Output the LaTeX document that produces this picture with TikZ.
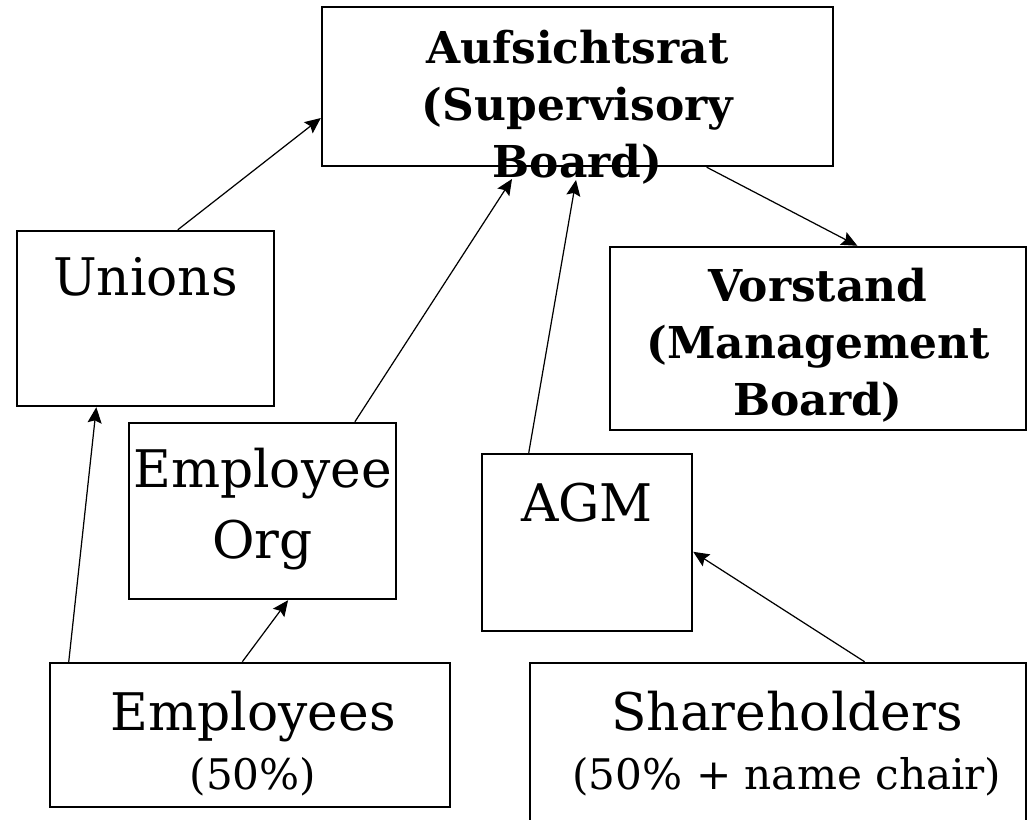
\documentclass[tikz,border=0pt]{standalone}
\usepackage{fontspec}
\setmainfont{DejaVu Serif}
\usetikzlibrary{arrows.meta}

\begin{document}
\begin{tikzpicture}[x=0.02cm,y=-0.02cm,>={Stealth[length=9pt,width=8pt,inset=1.5pt]},
    box node/.style={rectangle,draw,line width=1.4pt,inner sep=0pt},
    big text/.style={font=\fontsize{29.5}{40}\selectfont,align=center,inner sep=0pt},
    bold text/.style={font=\fontsize{25}{32.5}\selectfont\bfseries,align=center,inner sep=0pt},
    small text/.style={font=\fontsize{24}{30}\selectfont,inner sep=0pt},
    link/.style={->,line width=0.7pt}]
  \path[use as bounding box,clip] (0,0) rectangle (1030,820);

  % the boxes
  \node[box node,minimum width=10.22cm,minimum height=3.18cm] (auf) at (577.5,86.5) {};
  \node[box node,minimum width=5.14cm,minimum height=3.5cm] (unions) at (145.5,318.5) {};
  \node[box node,minimum width=8.32cm,minimum height=3.66cm] (vor) at (818,338.5) {};
  \node[box node,minimum width=5.34cm,minimum height=3.52cm] (emporg) at (262.5,511) {};
  \node[box node,minimum width=4.2cm,minimum height=3.54cm] (agm) at (587,542.5) {};
  \node[box node,minimum width=8cm,minimum height=2.88cm] (emp) at (250,735) {};
  \node[box node,minimum width=9.92cm,minimum height=3.54cm] (share) at (778,751.5) {};

  % the texts
  \node[bold text,anchor=north] (auf-t) at (577.5,30) {Aufsichtsrat\\(Supervisory\\Board)};
  \node[big text,anchor=base] (unions-t) at (145.5,296) {Unions};
  \node[bold text,anchor=north] (vor-t) at (818,268) {Vorstand\\(Management\\Board)};
  \node[big text,anchor=north] (emporg-t) at (262.5,448) {Employee\\Org};
  \node[big text,anchor=base] (agm-t) at (587,521) {AGM};
  \node[big text,anchor=base] (emp-t) at (253,730) {Employees};
  \node[small text,anchor=base] (emp-s) at (253,789) {(50\%)};
  \node[big text,anchor=base] (share-t) at (787,730) {Shareholders};
  \node[small text,anchor=base] (share-s) at (787,789) {(50\% + name chair)};

  % tips that stop inside the last line of the board
  \coordinate (auf-in1) at (512,179);
  \coordinate (auf-in2) at (576,180);

  % who sends whom
  \path[link] (unions.70) edge (auf.187.5);
  \path[link] (emporg.44) edge (auf-in1);
  \path[link] (agm.123) edge (auf-in2);
  \path[link] (auf.328) edge (vor.67);
  \path[link] (emp.158.5) edge (unions.241);
  \path[link] (emp.96.3) edge (emporg.286);
  \path[link] (share.46.2) edge (agm.355);
\end{tikzpicture}
\end{document}
